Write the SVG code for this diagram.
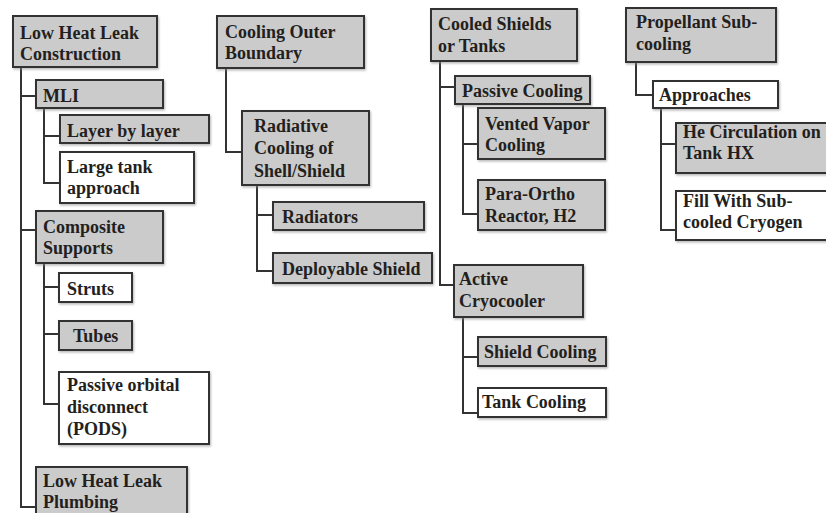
<svg xmlns="http://www.w3.org/2000/svg" width="826" height="513" viewBox="0 0 826 513">
<defs>
<filter id="sh" x="-10%" y="-10%" width="120%" height="130%">
<feDropShadow dx="1" dy="1.5" stdDeviation="1.2" flood-color="#888" flood-opacity="0.6"/>
</filter>
<style>
.g{fill:#cbcbcb;stroke:#333;stroke-width:2;filter:url(#sh)}
.w{fill:#fff;stroke:#333;stroke-width:2;filter:url(#sh)}
.c{fill:none;stroke:#333;stroke-width:2}
</style>
</defs>
<rect width="826" height="513" fill="#fff"/>
<g id="connectors">
<path class="c" d="M21,67V507H36M21,96H36M21,230H36"/>
<path class="c" d="M44,108V183H60M44,136H60"/>
<path class="c" d="M44,263V404H59M44,287H59M44,334H59"/>
<path class="c" d="M226,68V152H242"/>
<path class="c" d="M257,185V271H273M257,215H273"/>
<path class="c" d="M440,61V285H454M440,87H455"/>
<path class="c" d="M463,104V214H478M463,144H478"/>
<path class="c" d="M463,317V413H478M463,357H478"/>
<path class="c" d="M636,62V95H653"/>
<path class="c" d="M661,108V230H676M661,144H676"/>
</g>
<g font-family="Liberation Serif, Times New Roman, serif" font-weight="bold" font-size="18" fill="#231f20">
<g id="n1"><rect class="g" x="13" y="16" width="144" height="51"/><text x="20" y="39">Low Heat Leak</text><text x="20" y="60">Construction</text></g>
<g id="n2"><rect class="g" x="36" y="80" width="127" height="28"/><text x="43" y="102">MLI</text></g>
<g id="n3"><rect class="g" x="60" y="115" width="149" height="28"/><text x="67" y="137">Layer by layer</text></g>
<g id="n4"><rect class="w" x="60" y="152" width="134" height="51"/><text x="67" y="173">Large tank</text><text x="67" y="194">approach</text></g>
<g id="n5"><rect class="g" x="36" y="211" width="127" height="52"/><text x="43" y="233">Composite</text><text x="43" y="254">Supports</text></g>
<g id="n6"><rect class="w" x="59" y="273" width="73" height="29"/><text x="67" y="295">Struts</text></g>
<g id="n7"><rect class="g" x="59" y="321" width="73" height="29"/><text x="73" y="342">Tubes</text></g>
<g id="n8"><rect class="w" x="59" y="372" width="150" height="72"/><text x="67" y="391">Passive orbital</text><text x="67" y="413">disconnect</text><text x="67" y="435">(PODS)</text></g>
<g id="n9"><rect class="g" x="36" y="467" width="151" height="60"/><text x="43" y="487">Low Heat Leak</text><text x="43" y="508">Plumbing</text></g>
<g id="n10"><rect class="g" x="217" y="16" width="147" height="52"/><text x="225" y="38">Cooling Outer</text><text x="225" y="59">Boundary</text></g>
<g id="n11"><rect class="g" x="242" y="111" width="127" height="74"/><text x="254" y="132">Radiative</text><text x="254" y="154">Cooling of</text><text x="254" y="177">Shell/Shield</text></g>
<g id="n12"><rect class="g" x="273" y="202" width="151" height="28"/><text x="282" y="223">Radiators</text></g>
<g id="n13"><rect class="g" x="273" y="253" width="159" height="30"/><text x="282" y="275">Deployable Shield</text></g>
<g id="n14"><rect class="g" x="431" y="9" width="146" height="52"/><text x="438" y="30">Cooled Shields</text><text x="438" y="52">or Tanks</text></g>
<g id="n15"><rect class="g" x="455" y="76" width="135" height="28"/><text x="462" y="97">Passive Cooling</text></g>
<g id="n16"><rect class="g" x="478" y="108" width="127" height="51"/><text x="485" y="130">Vented Vapor</text><text x="485" y="151">Cooling</text></g>
<g id="n17"><rect class="g" x="478" y="180" width="127" height="50"/><text x="485" y="200">Para-Ortho</text><text x="485" y="222">Reactor, H2</text></g>
<g id="n18"><rect class="g" x="454" y="265" width="129" height="52"/><text x="459" y="285">Active</text><text x="459" y="307">Cryocooler</text></g>
<g id="n19"><rect class="g" x="478" y="337" width="128" height="29"/><text x="484" y="358">Shield Cooling</text></g>
<g id="n20"><rect class="w" x="478" y="388" width="128" height="29"/><text x="482" y="408">Tank Cooling</text></g>
<g id="n21"><rect class="g" x="626" y="8" width="150" height="54"/><text x="636" y="28">Propellant Sub-</text><text x="636" y="50">cooling</text></g>
<g id="n22"><rect class="w" x="653" y="81" width="125" height="27"/><text x="659" y="101">Approaches</text></g>
<g id="n23"><rect class="g" x="676" y="123" width="170" height="50"/><text x="683" y="138">He Circulation on</text><text x="683" y="159">Tank HX</text></g>
<g id="n24"><rect class="w" x="676" y="191" width="170" height="49"/><text x="683" y="207">Fill With Sub-</text><text x="683" y="228">cooled Cryogen</text></g>
</g>
</svg>
